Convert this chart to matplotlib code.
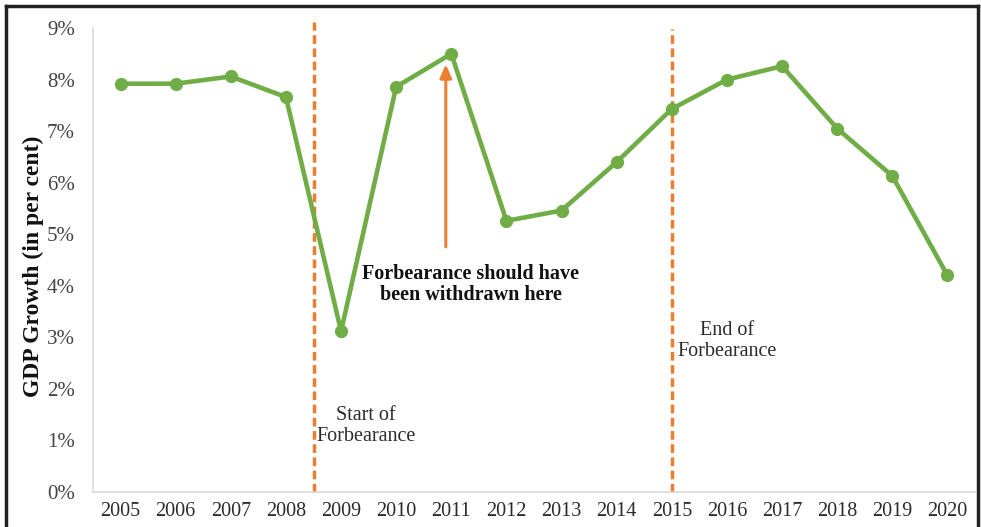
import matplotlib
matplotlib.use("Agg")
import matplotlib.pyplot as plt
from matplotlib.lines import Line2D

years = ["2005", "2006", "2007", "2008", "2009", "2010", "2011", "2012",
         "2013", "2014", "2015", "2016", "2017", "2018", "2019", "2020"]
gdp_growth = [7.92, 7.92, 8.06, 7.66, 3.12, 7.86, 8.50, 5.26,
              5.46, 6.40, 7.43, 8.00, 8.26, 7.05, 6.13, 4.20]
y_ticks = [0, 1, 2, 3, 4, 5, 6, 7, 8, 9]
y_tick_labels = [f"{v}%" for v in y_ticks]
start_pos = 3.5   # between 2008 and 2009
end_pos = 10      # 2015
arrow_pos = 5.9   # just left of 2011

plt.rcParams['font.family'] = ['Liberation Serif', 'DejaVu Serif']

fig = plt.figure(figsize=(9.81, 5.27), dpi=100)
ax = fig.add_axes([93/981, 1 - 492/527, (975 - 93)/981, (492 - 28)/527])

green = "#70ad47"
orange = "#ed7d31"
txt = "#2b2b2b"

x = list(range(len(years)))
ax.plot(x, gdp_growth, color=green, lw=3.3, marker="o", markersize=8.5, zorder=3)

ax.set_xlim(-0.5, len(years) - 0.5)
ax.set_ylim(0, 9)
ax.set_xticks(x)
ax.set_xticklabels(years, fontsize=14.5, color=txt)
ax.set_yticks(y_ticks)
ax.set_yticklabels(y_tick_labels, fontsize=15, color="#444444")
ax.tick_params(axis="both", length=0)
ax.tick_params(axis="x", pad=7)
ax.tick_params(axis="y", pad=13)
for s in ["top", "right"]:
    ax.spines[s].set_visible(False)
for s in ["left", "bottom"]:
    ax.spines[s].set_color("#d9d9d9")
    ax.spines[s].set_linewidth(1.2)

ax.set_ylabel("GDP Growth (in per cent)", fontsize=17, fontweight="bold",
              color="#111111", va="center")
ax.yaxis.set_label_coords((33 - 93) / 882, (492 - 266) / 464)

# dashed vertical markers
ax.plot([start_pos, start_pos], [0, 9.12], color=orange, lw=2.5,
        dashes=(2.5, 1.3), clip_on=False, zorder=2)
ax.plot([end_pos, end_pos], [0, 8.98], color=orange, lw=2.5,
        dashes=(2.5, 1.3), clip_on=False, zorder=2)

# arrow
ax.annotate("", xy=(arrow_pos, 8.35), xytext=(arrow_pos, 4.7),
            arrowprops=dict(arrowstyle="-|>,head_length=0.8,head_width=0.35",
                            color=orange, lw=2.2))
ax.text(6.35, 4.02, "Forbearance should have\nbeen withdrawn here",
        ha="center", va="center", fontsize=14.5, fontweight="bold",
        color="#111111", linespacing=1.1)
ax.text(start_pos + 0.95, 1.28, "Start of\nForbearance", ha="center",
        va="center", fontsize=14.5, color=txt, linespacing=1.1)
ax.text(end_pos + 1.0, 2.93, "End of\nForbearance", ha="center",
        va="center", fontsize=14.5, color=txt, linespacing=1.1)

# figure frame
fig.add_artist(Line2D([6/981, 978/981], [1 - 6/527, 1 - 6/527],
                      transform=fig.transFigure, color="#222222", lw=2.5))
fig.add_artist(Line2D([6/981, 6/981], [0, 1 - 6/527],
                      transform=fig.transFigure, color="#222222", lw=2.5))
fig.add_artist(Line2D([978/981, 978/981], [0, 1 - 6/527],
                      transform=fig.transFigure, color="#222222", lw=2.5))

fig.savefig("out.png", dpi=100)
